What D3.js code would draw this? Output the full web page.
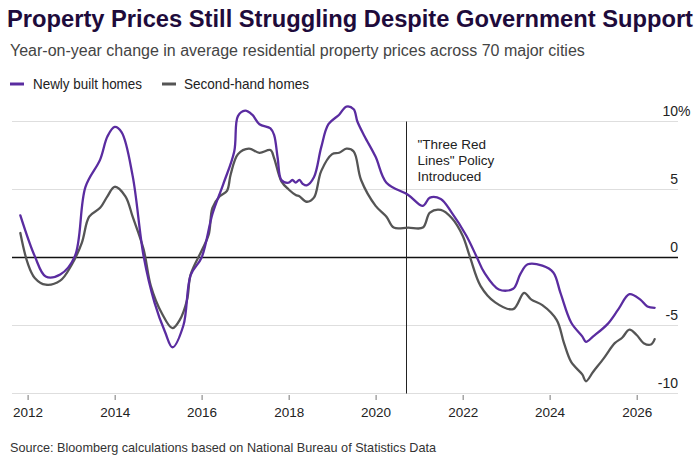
<!DOCTYPE html>
<html>
<head>
<meta charset="utf-8">
<script src="https://cdn.jsdelivr.net/npm/d3@7"></script>
<style>
body { margin: 0; background: #fff; }
text { font-family: "Liberation Sans", Arial, sans-serif; }
</style>
</head>
<body>
<div id="chart"></div>
<script>
// year-on-year change, %
var newlyBuilt = [
    ['2011-11', 3.1], ['2012-03', 0.1], ['2012-06', -1.4], ['2012-10', -1.25], ['2013-02', 0.1],
    ['2013-05', 5.2], ['2013-09', 7.2], ['2013-11', 8.9], ['2014-01', 9.6], ['2014-03', 9.2],
    ['2014-06', 6.0], ['2014-09', 0.1], ['2014-12', -3.3], ['2015-03', -5.5], ['2015-05', -6.6],
    ['2015-08', -5.0], ['2015-10', -1.3], ['2016-01', 0.0], ['2016-04', 3.2], ['2016-07', 5.4],
    ['2016-10', 7.8], ['2016-11', 10.4], ['2017-01', 10.8], ['2017-03', 10.5], ['2017-05', 9.8],
    ['2017-08', 9.5], ['2017-09', 9.0], ['2017-10', 7.3], ['2017-11', 5.7], ['2018-01', 5.5],
    ['2018-02', 5.7], ['2018-03', 5.5], ['2018-04', 5.7], ['2018-05', 5.4], ['2018-06', 5.3],
    ['2018-08', 5.9], ['2018-10', 8.1], ['2018-12', 9.8], ['2019-03', 10.5], ['2019-05', 11.1],
    ['2019-07', 10.9], ['2019-08', 10.0], ['2019-10', 8.9], ['2020-01', 7.4], ['2020-04', 5.5],
    ['2020-10', 4.6], ['2021-02', 3.8], ['2021-04', 4.4], ['2021-07', 4.3], ['2021-10', 3.3],
    ['2022-02', 1.6], ['2022-05', 0.0], ['2022-07', -1.1], ['2022-11', -2.35], ['2023-03', -2.3],
    ['2023-05', -1.2], ['2023-07', -0.5], ['2023-11', -0.6], ['2024-02', -1.1], ['2024-04', -2.6],
    ['2024-07', -4.8], ['2024-10', -5.8], ['2024-11', -6.2], ['2025-01', -5.8], ['2025-05', -4.9],
    ['2025-08', -3.8], ['2025-11', -2.7], ['2026-02', -3.1], ['2026-04', -3.6], ['2026-06', -3.7]
];

var secondHand = [
    ['2011-11', 1.8], ['2012-01', -0.4], ['2012-03', -1.5], ['2012-06', -2.0], ['2012-10', -1.7],
    ['2013-01', -0.6], ['2013-04', 1.1], ['2013-06', 3.0], ['2013-09', 3.65], ['2013-11', 4.5],
    ['2014-01', 5.2], ['2014-04', 4.5], ['2014-06', 3.0], ['2014-09', 0.6], ['2014-11', -2.1],
    ['2015-02', -4.1], ['2015-05', -5.2], ['2015-07', -4.6], ['2015-09', -3.1], ['2015-10', -1.25],
    ['2016-01', 0.5], ['2016-03', 1.7], ['2016-04', 3.65], ['2016-06', 4.5], ['2016-08', 4.9],
    ['2016-09', 6.1], ['2016-11', 7.6], ['2017-02', 8.0], ['2017-05', 7.7], ['2017-08', 7.9],
    ['2017-09', 7.3], ['2017-11', 5.6], ['2018-01', 5.0], ['2018-03', 4.6], ['2018-04', 4.5],
    ['2018-06', 4.1], ['2018-08', 4.4], ['2018-10', 6.35], ['2019-01', 7.6], ['2019-03', 7.7],
    ['2019-05', 8.0], ['2019-07', 7.8], ['2019-09', 5.7], ['2020-01', 3.8], ['2020-04', 3.0],
    ['2020-06', 2.2], ['2020-10', 2.2], ['2021-02', 2.2], ['2021-04', 3.3], ['2021-07', 3.5],
    ['2021-10', 2.9], ['2022-01', 1.6], ['2022-03', 0.1], ['2022-06', -2.1], ['2022-10', -3.3],
    ['2023-03', -3.8], ['2023-06', -2.6], ['2023-08', -3.1], ['2023-11', -3.5], ['2024-03', -4.6],
    ['2024-05', -6.3], ['2024-07', -7.7], ['2024-10', -8.6], ['2024-11', -9.1], ['2025-01', -8.4],
    ['2025-04', -7.4], ['2025-07', -6.3], ['2025-09', -5.9], ['2025-11', -5.3], ['2026-01', -5.7],
    ['2026-03', -6.3], ['2026-05', -6.4], ['2026-06', -6.0]
];

var seriesNames = ['Newly built homes', 'Second-hand homes'];
var yTicks = [-10, -5, 0, 5, 10];
var xTickYears = [2012, 2014, 2016, 2018, 2020, 2022, 2024, 2026];
var policyDate = '2020-09-10';
var policyLabel = ['"Three Red', 'Lines" Policy', 'Introduced'];

var title = 'Property Prices Still Struggling Despite Government Support';
var subtitle = 'Year-on-year change in average residential property prices across 70 major cities';
var source = 'Source: Bloomberg calculations based on National Bureau of Statistics Data';

var colors = ['#5a2ca0', '#555555'];

var W = 700, H = 467;
var plot = {left: 12, right: 678, top: 121.5, bottom: 393.5};

var parseMonth = d3.timeParse('%Y-%m');
var parseDay = d3.timeParse('%Y-%m-%d');

var svg = d3.select('#chart').append('svg')
    .attr('width', W)
    .attr('height', H)
    .style('background', '#fff');

// fit text to the width it takes in the reference
function fit(sel, w) {
    var len = sel.node().getComputedTextLength();
    if (Math.abs(len - w) > 2) {
        sel.attr('textLength', w).attr('lengthAdjust', 'spacingAndGlyphs');
    }
    return sel;
}

svg.append('text')
    .attr('x', 7).attr('y', 26.5)
    .attr('font-size', 23.5).attr('font-weight', 'bold')
    .attr('fill', '#1e0b3b')
    .text(title)
    .call(fit, 686);

svg.append('text')
    .attr('x', 10).attr('y', 55.5)
    .attr('font-size', 16)
    .attr('fill', '#444')
    .text(subtitle)
    .call(fit, 574);

// legend
var legendX = [[10, 33, 109], [162, 184, 125]];
seriesNames.forEach((name, i) => {
    svg.append('line')
        .attr('x1', legendX[i][0]).attr('x2', legendX[i][0] + 14)
        .attr('y1', 84).attr('y2', 84)
        .attr('stroke', colors[i]).attr('stroke-width', 3);
    svg.append('text')
        .attr('x', legendX[i][1]).attr('y', 89)
        .attr('font-size', 14.5)
        .attr('fill', '#222')
        .text(name)
        .call(fit, legendX[i][2]);
});

var xScale = d3.scaleTime()
    .domain([parseDay('2011-08-23'), parseDay('2026-12-14')])
    .range([plot.left, plot.right]);

var yScale = d3.scaleLinear()
    .domain([-10, 10])
    .range([plot.bottom, plot.top]);

// grid
svg.append('g')
    .selectAll('line')
    .data(yTicks)
    .enter().append('line')
    .attr('x1', plot.left).attr('x2', plot.right)
    .attr('y1', d => yScale(d)).attr('y2', d => yScale(d))
    .attr('stroke', d => d == 0 ? '#111' : '#dedede')
    .attr('stroke-width', d => d == 0 ? 1.3 : 1);

svg.append('g')
    .selectAll('text')
    .data(yTicks)
    .enter().append('text')
    .attr('x', plot.right)
    .attr('y', d => yScale(d) - 5.5)
    .attr('text-anchor', 'end')
    .attr('font-size', 14)
    .attr('fill', '#222')
    .text(d => d);

svg.append('text')
    .attr('x', plot.right).attr('y', yScale(10) - 5.5)
    .attr('font-size', 14)
    .attr('fill', '#222')
    .text('%');

// x axis
var xAxis = d3.axisBottom(xScale)
    .tickValues(xTickYears.map(y => new Date(y, 0, 1)))
    .tickFormat(d3.timeFormat('%Y'))
    .tickSize(6)
    .tickPadding(7);

svg.append('g')
    .attr('transform', `translate(0, ${plot.bottom + 0.5})`)
    .call(xAxis)
    .call(g => g.select('.domain').remove())
    .call(g => g.selectAll('.tick line').attr('stroke', '#777').attr('y1', 1))
    .call(g => g.selectAll('.tick text')
        .attr('font-size', 13.5)
        .attr('font-family', '"Liberation Sans", Arial, sans-serif')
        .attr('fill', '#222'));

// policy marker
var px = Math.round(xScale(parseDay(policyDate))) + 0.5;
svg.append('line')
    .attr('x1', px).attr('x2', px)
    .attr('y1', yScale(10)).attr('y2', plot.bottom)
    .attr('stroke', '#222').attr('stroke-width', 1);

svg.append('g')
    .selectAll('text')
    .data(policyLabel)
    .enter().append('text')
    .attr('x', px + 11)
    .attr('y', (d, i) => 149 + i * 15.8)
    .attr('font-size', 13.5)
    .attr('fill', '#222')
    .text(d => d);

// lines
var line = d3.line()
    .x(d => xScale(parseMonth(d[0])))
    .y(d => yScale(d[1]))
    .curve(d3.curveCatmullRom.alpha(0.5));

[secondHand, newlyBuilt].forEach((data, k) => {
    svg.append('path')
        .datum(data)
        .attr('d', line)
        .attr('fill', 'none')
        .attr('stroke', colors[1 - k])
        .attr('stroke-width', 2.3)
        .attr('stroke-linejoin', 'round')
        .attr('stroke-linecap', 'round');
});

svg.append('text')
    .attr('x', 10).attr('y', 451.5)
    .attr('font-size', 13)
    .attr('fill', '#333')
    .text(source)
    .call(fit, 426);
</script>
</body>
</html>
